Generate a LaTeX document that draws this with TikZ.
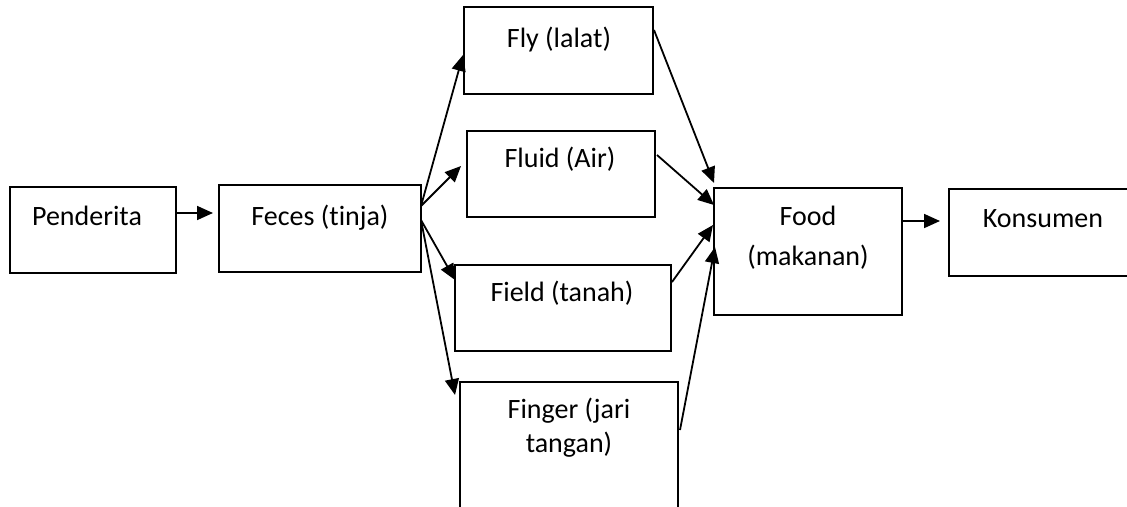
\documentclass[tikz,border=0pt]{standalone}
\usepackage{fontspec}
\setmainfont{Carlito}[Ligatures=NoCommon]
\usetikzlibrary{arrows.meta}
\begin{document}
\begin{tikzpicture}[x=1pt,y=-1pt,
  box/.style={draw, line width=2pt, inner sep=0pt},
  txt/.style={anchor=base, inner sep=0pt, font=\fontsize{28}{34}\selectfont, align=center},
  conn/.style={line width=1.8pt, -{Triangle[length=16pt,width=14pt]}}]
\useasboundingbox (0,0) rectangle (1127,506);
\clip (0,0) rectangle (1127,506);
% boxes
\node[box, minimum width=166pt, minimum height=86pt] (pend) at (93,230) {};
\node[box, minimum width=202pt, minimum height=87pt] (feces) at (320,228.5) {};
\node[box, minimum width=189pt, minimum height=87pt] (fly) at (558.5,50.5) {};
\node[box, minimum width=188pt, minimum height=86pt] (fluid) at (561,174) {};
\node[box, minimum width=216pt, minimum height=86pt] (field) at (563,308) {};
\node[box, minimum width=218pt, minimum height=178pt] (finger) at (569,471) {};
\node[box, minimum width=188pt, minimum height=127pt] (food) at (808,251.5) {};
\node[box, minimum width=201pt, minimum height=87pt] (kons) at (1049.5,232.5) {};
% texts
\node[txt] (pendT) at (87,225) {Penderita};
\node[txt] (fecesT) at (320,225) {Feces (tinja)};
\node[txt] (flyT) at (559,47) {Fly (lalat)};
\node[txt] (fluidT) at (560,167) {Fluid (Air)};
\node[txt] (fieldT) at (562,301) {Field (tanah)};
\node[txt, font=\fontsize{28}{34}\selectfont] (fingerT) at (569,452) {Finger (jari\\tangan)};
\node[txt, font=\fontsize{28}{40}\selectfont] (foodT) at (808,265) {Food\\(makanan)};
\node[txt] (konsT) at (1043,227) {Konsumen};
% connector end points
\coordinate (pendO) at (176,213);
\coordinate (fecesI) at (213,213);
\coordinate (fecesO1) at (421,206);
\coordinate (fecesO2) at (421,220);
\coordinate (flyI) at (463,55);
\coordinate (fluidI) at (461,166);
\coordinate (fieldI) at (455,280);
\coordinate (fingerI) at (455,395);
\coordinate (flyO) at (654,30);
\coordinate (fluidO) at (657,155);
\coordinate (fieldO) at (672,282);
\coordinate (fingerO) at (680,430);
\coordinate (foodI1) at (714,183);
\coordinate (foodI2) at (714,205);
\coordinate (foodI3) at (713,225);
\coordinate (foodI4) at (715,247);
\coordinate (foodO) at (902,221);
\coordinate (konsI) at (940,221);
% connectors
\draw[conn] (pendO) -- (fecesI);
\draw[conn] (fecesO1) -- (flyI);
\draw[conn] (fecesO1) -- (fluidI);
\draw[conn] (fecesO2) -- (fieldI);
\draw[conn] (fecesO2) -- (fingerI);
\draw[conn] (flyO) -- (foodI1);
\draw[conn] (fluidO) -- (foodI2);
\draw[conn] (fieldO) -- (foodI3);
\draw[conn] (fingerO) -- (foodI4);
\draw[conn] (foodO) -- (konsI);
\end{tikzpicture}
\end{document}
